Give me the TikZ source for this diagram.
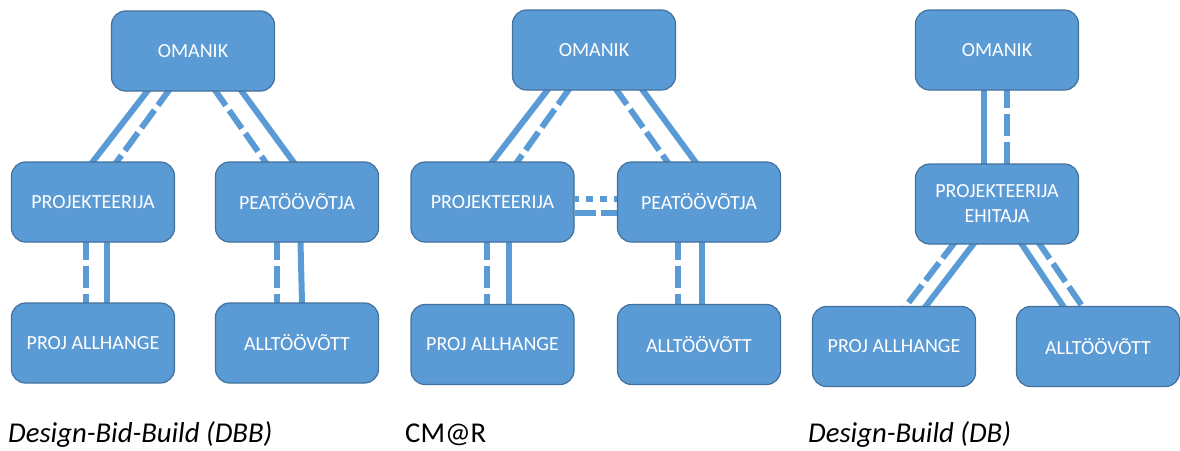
\documentclass[tikz,border=0pt]{standalone}
\usepackage{fontspec}
\setmainfont{Carlito}
\usetikzlibrary{backgrounds}
\definecolor{boxfill}{HTML}{5B9BD5}
\definecolor{boxedge}{HTML}{41719C}
\begin{document}
\begin{tikzpicture}[x=1pt,y=-1pt,
  party/.style={draw=boxedge, line width=1.2pt, fill=boxfill, rounded corners=14pt,
    minimum width=163pt, minimum height=80pt, inner sep=0pt, text=white,
    align=center, font=\fontsize{20}{25}\selectfont},
  link/.style={draw=boxfill, line width=6pt, shorten <=-5pt, shorten >=-5pt},
  contract/.style={link},
  info/.style={link, dash pattern=on 22pt off 6pt},
  infoh/.style={link, dash pattern=on 21pt off 5pt},
  coord/.style={link, dash pattern=on 7pt off 7pt, dash phase=3pt},
  caption/.style={anchor=base west, inner sep=0pt, font=\fontsize{28.7}{32}\selectfont}
]
\useasboundingbox (0,0) rectangle (1180,450);

% ---- Design-Bid-Build ----
\node[party] (o1) at (193,51) {OMANIK};
\node[party] (p1) at (93,202) {PROJEKTEERIJA};
\node[party] (c1) at (297,202) {PEATÖÖVÕTJA};
\node[party] (a1) at (93,343) {PROJ ALLHANGE};
\node[party] (s1) at (297,343) {ALLTÖÖVÕTT};

% ---- CM@R ----
\node[party] (o2) at (594,50) {OMANIK};
\node[party] (p2) at (492.5,202) {PROJEKTEERIJA};
\node[party] (c2) at (699,202) {PEATÖÖVÕTJA};
\node[party] (a2) at (492.5,344.5) {PROJ ALLHANGE};
\node[party] (s2) at (699,344.5) {ALLTÖÖVÕTT};

% ---- Design-Build ----
\node[party] (o3) at (997,50) {OMANIK};
\node[party] (p3) at (997,204) {PROJEKTEERIJA\\EHITAJA};
\node[party] (a3) at (894,346.5) {PROJ ALLHANGE};
\node[party] (s3) at (1098,346.5) {ALLTÖÖVÕTT};

\begin{scope}[on background layer]
  % DBB connectors
  \draw[contract] ([xshift=-46pt]o1.south) -- ([xshift=0pt]p1.north);
  \draw[info]     ([xshift=-25pt]o1.south) -- ([xshift=24pt]p1.north);
  \draw[info]     ([xshift=23pt]o1.south)  -- ([xshift=-32pt]c1.north);
  \draw[contract] ([xshift=49pt]o1.south)  -- ([xshift=-4pt]c1.north);
  \draw[info]     ([xshift=-7pt]p1.south)  -- ([xshift=-7pt]a1.north);
  \draw[contract] ([xshift=14pt]p1.south)  -- ([xshift=14pt]a1.north);
  \draw[info]     ([xshift=-20pt]c1.south) -- ([xshift=-20pt]s1.north);
  \draw[contract] ([xshift=3.5pt]c1.south) -- ([xshift=5pt]s1.north);

  % CM@R connectors
  \draw[contract] ([xshift=-47pt]o2.south) -- ([xshift=0pt]p2.north);
  \draw[info]     ([xshift=-26pt]o2.south) -- ([xshift=25pt]p2.north);
  \draw[info]     ([xshift=23pt]o2.south)  -- ([xshift=-32pt]c2.north);
  \draw[contract] ([xshift=49pt]o2.south)  -- ([xshift=-4pt]c2.north);
  \draw[infoh, shorten <=0pt, shorten >=0pt] ([yshift=-10.5pt]p2.east) -- ([yshift=-10.5pt]c2.west);
  \draw[coord, shorten <=0pt, shorten >=0pt] ([yshift=3pt]p2.east) -- ([yshift=3pt]c2.west);
  \draw[info]     ([xshift=-5.5pt]p2.south) -- ([xshift=-5.5pt]a2.north);
  \draw[contract] ([xshift=16.5pt]p2.south) -- ([xshift=16.5pt]a2.north);
  \draw[info]     ([xshift=-21pt]c2.south) -- ([xshift=-21pt]s2.north);
  \draw[contract] ([xshift=3pt]c2.south)   -- ([xshift=3pt]s2.north);

  % DB connectors
  \draw[contract] ([xshift=-13pt]o3.south) -- ([xshift=-13pt]p3.north);
  \draw[info]     ([xshift=10pt]o3.south)  -- ([xshift=10pt]p3.north);
  \draw[info]     ([xshift=-44pt]p3.south) -- ([xshift=12pt]a3.north);
  \draw[contract] ([xshift=-24pt]p3.south) -- ([xshift=32pt]a3.north);
  \draw[contract] ([xshift=25pt]p3.south)  -- ([xshift=-35pt]s3.north);
  \draw[info]     ([xshift=43pt]p3.south)  -- ([xshift=-16pt]s3.north);
\end{scope}

% ---- captions ----
\node[caption] (t1) at (8,442) {\itshape Design-Bid-Build (DBB)};
\node[caption] (t2) at (405,442) {CM@R};
\node[caption] (t3) at (808,442) {\itshape Design-Build (DB)};
\end{tikzpicture}
\end{document}
